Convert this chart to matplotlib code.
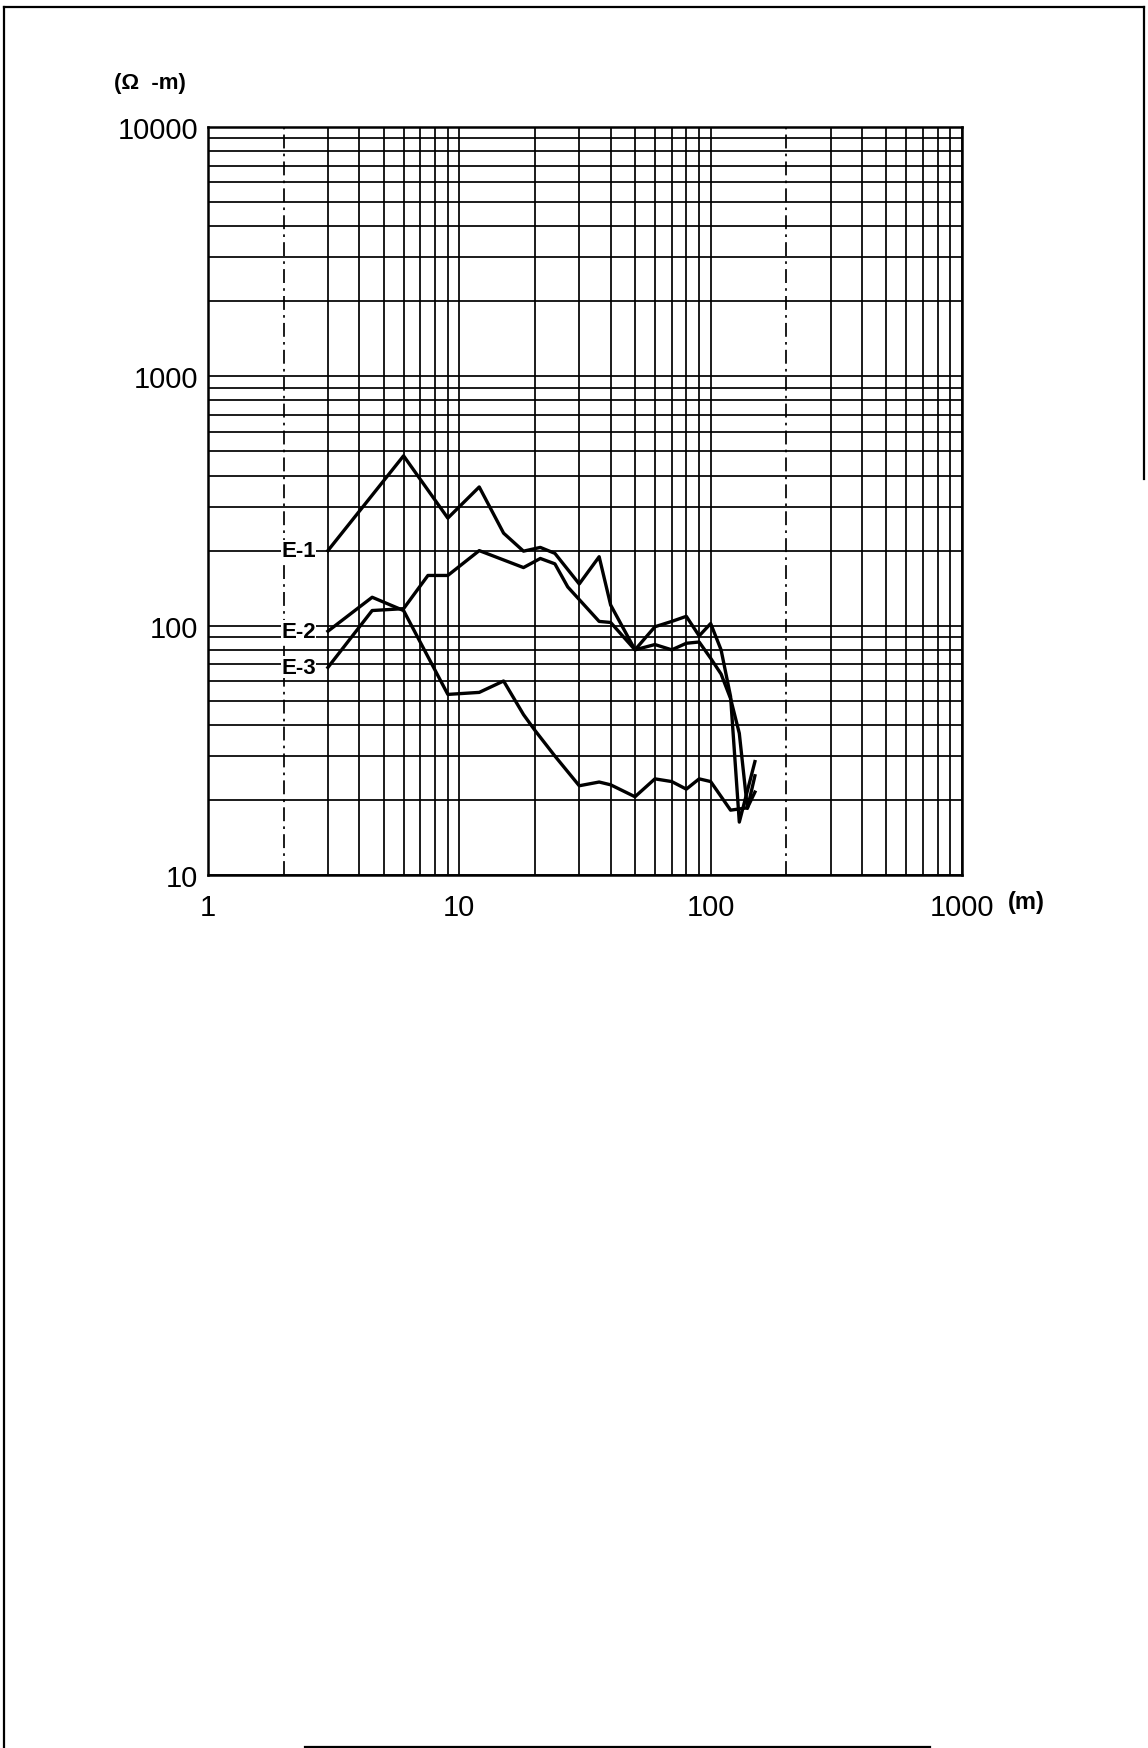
import matplotlib
matplotlib.use("Agg")
import matplotlib.pyplot as plt
from matplotlib.ticker import LogLocator, FixedFormatter, NullFormatter, FixedLocator
from matplotlib.lines import Line2D

# ---------------- data ----------------
e1_x = [3, 6, 9, 12, 15, 18, 21, 24, 30, 36, 40, 50, 60, 70, 80, 90, 100, 110, 120, 130, 150]
e1_y = [200, 480, 270, 360, 235, 199, 206, 195, 147, 189, 121, 80, 99, 104, 109, 91, 102, 80, 52, 16.3, 28.5]

e2_x = [3, 4.5, 6, 9, 12, 15, 18, 20, 24, 30, 36, 40, 50, 60, 70, 80, 90, 100, 120, 140, 150]
e2_y = [95, 130, 115, 53, 54, 60, 44, 38, 30, 22.8, 23.6, 23, 20.6, 24.3, 23.7, 22.1, 24.3, 23.7, 18.2, 18.6, 21.5]

e3_x = [3, 4.5, 6, 7.5, 9, 12, 18, 21, 24, 27, 36, 40, 50, 60, 70, 80, 90, 100, 110, 120, 130, 140, 150]
e3_y = [68, 115, 117, 159, 159, 200, 171, 186, 177, 143, 104, 103, 80, 84, 80, 85, 86, 74, 64, 51, 37, 18.5, 25]

series_names = ["E-1", "E-2", "E-3"]
x_ticks = [1, 10, 100, 1000]
x_tick_labels = ["1", "10", "100", "1000"]
y_ticks = [10, 100, 1000, 10000]
y_tick_labels = ["10", "100", "1000", "10000"]
y_unit = "(Ω  -m)"
x_unit = "(m)"

# ---------------- figure ----------------
W, H, DPI = 1148, 1749, 100
fig = plt.figure(figsize=(W / DPI, H / DPI), dpi=DPI)
fig.patch.set_facecolor("white")

FONT = ["Liberation Sans", "DejaVu Sans"]

ax = fig.add_axes([208 / W, 1 - 876 / H, (962 - 208) / W, (876 - 128) / H])
ax.set_xscale("log")
ax.set_yscale("log")
ax.set_xlim(1, 1000)
ax.set_ylim(10, 10000)

# grid
ax.xaxis.set_major_locator(FixedLocator(x_ticks))
ax.yaxis.set_major_locator(FixedLocator(y_ticks))
ax.xaxis.set_minor_locator(LogLocator(base=10, subs=[2, 3, 4, 5, 6, 7, 8, 9], numticks=20))
ax.yaxis.set_minor_locator(LogLocator(base=10, subs=[2, 3, 4, 5, 6, 7, 8, 9], numticks=20))
ax.xaxis.set_major_formatter(FixedFormatter(x_tick_labels))
ax.yaxis.set_major_formatter(FixedFormatter(y_tick_labels))
ax.xaxis.set_minor_formatter(NullFormatter())
ax.yaxis.set_minor_formatter(NullFormatter())

ax.grid(True, which="both", color="black", linewidth=1.25, linestyle="-")
ax.tick_params(which="both", length=0)
ax.tick_params(axis="x", pad=13, labelsize=21)
ax.tick_params(axis="y", pad=7, labelsize=21)
for lab in ax.get_xticklabels() + ax.get_yticklabels():
    lab.set_fontfamily(FONT)

for s in ax.spines.values():
    s.set_color("black")
    s.set_linewidth(1.8)

# the "2" lines of the first and last decade are dash-dot
fig.canvas.draw()
for t in ax.xaxis.get_minor_ticks():
    loc = t.get_loc()
    if loc is not None and (abs(loc - 2) < 1e-6 or abs(loc - 200) < 1e-6):
        t.gridline.set_linestyle((0, (8, 3, 1.5, 3)))

# data
lw = 2.4
ax.plot(e1_x, e1_y, color="black", linewidth=lw, zorder=5)
ax.plot(e2_x, e2_y, color="black", linewidth=lw, zorder=5)
ax.plot(e3_x, e3_y, color="black", linewidth=lw, zorder=5)

for name, xs, ys in zip(series_names, [e1_x, e2_x, e3_x], [e1_y, e2_y, e3_y]):
    ax.annotate(name, xy=(xs[0], ys[0]), xytext=(-12, 0), textcoords="offset pixels",
                ha="right", va="center", fontsize=16, fontweight="bold",
                family=FONT, zorder=6,
                bbox=dict(boxstyle="square,pad=0.02", fc="white", ec="none"))

# units
fig.text(114 / W, 1 - 84 / H, y_unit, fontsize=16, fontweight="bold", family=FONT,
         ha="left", va="center")
fig.text(1008 / W, 1 - 903 / H, x_unit, fontsize=17, fontweight="bold", family=FONT,
         ha="left", va="center")

# page frame (scanned page border)
frame_kw = dict(color="black", linewidth=1.6, transform=fig.transFigure)
fig.add_artist(Line2D([4 / W, 1144 / W], [1 - 8 / H, 1 - 8 / H], **frame_kw))
fig.add_artist(Line2D([4 / W, 4 / W], [1 - 8 / H, 0], **frame_kw))
fig.add_artist(Line2D([1144 / W, 1144 / W], [1 - 8 / H, 1 - 480 / H], **frame_kw))
fig.add_artist(Line2D([305 / W, 930 / W], [1.5 / H, 1.5 / H], **frame_kw))

fig.savefig("out.png", dpi=DPI, facecolor="white")
